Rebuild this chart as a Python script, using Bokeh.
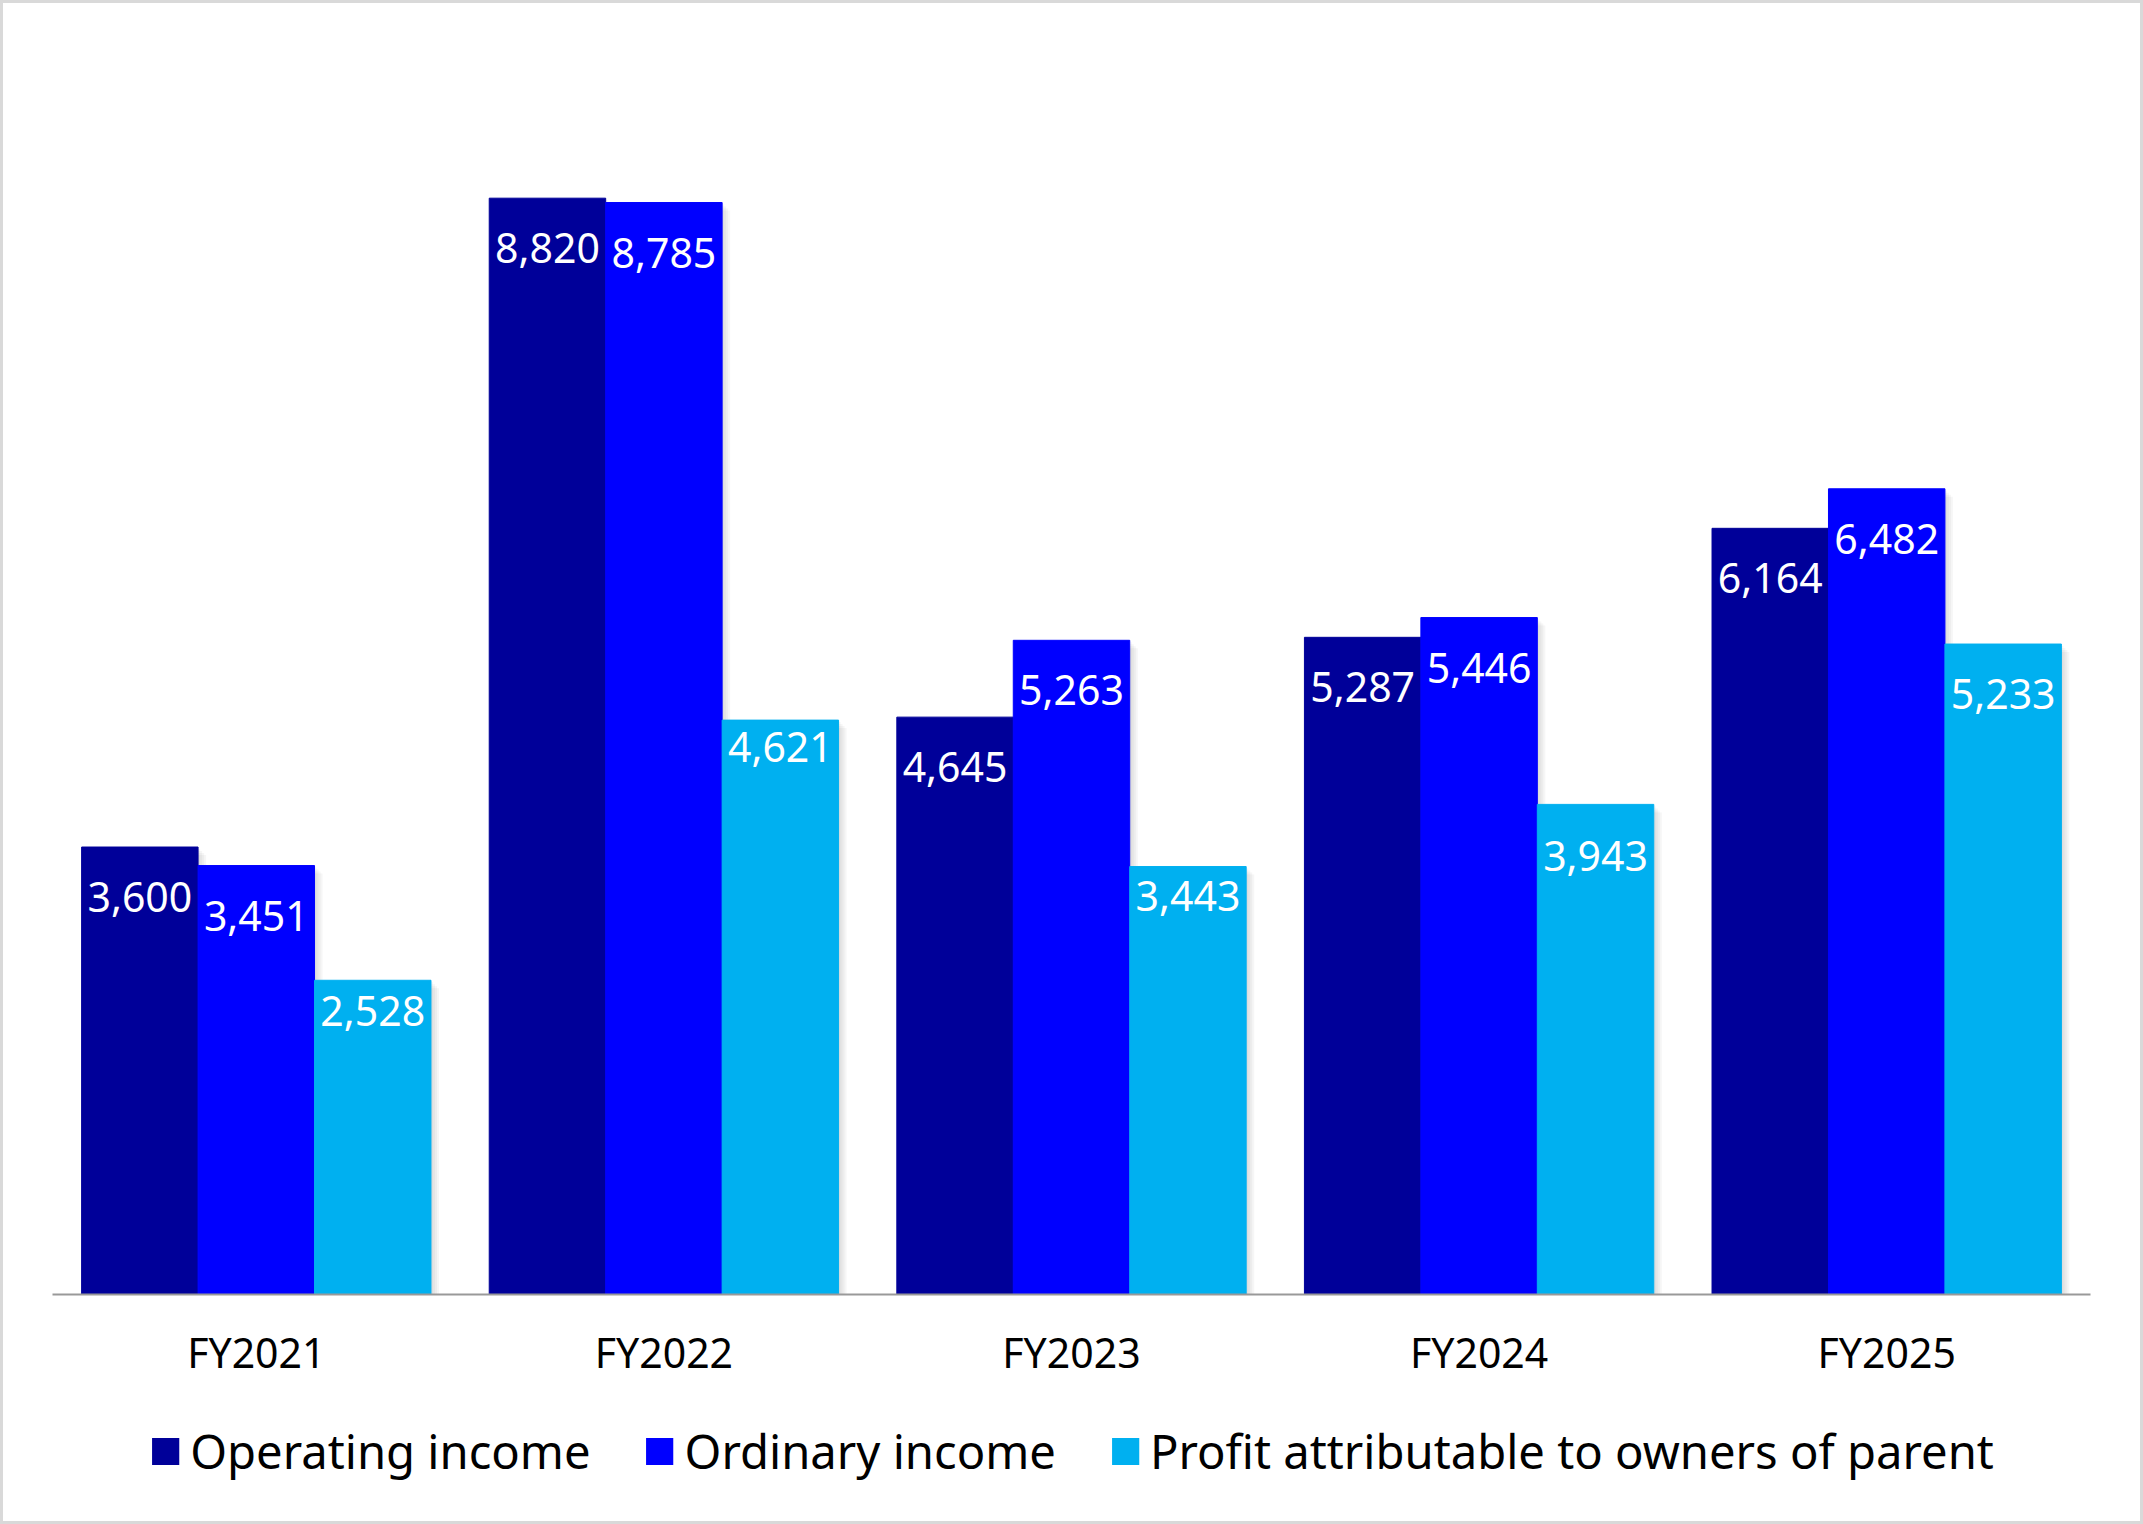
from bokeh.plotting import figure
from bokeh.layouts import column
from bokeh.models import ColumnDataSource, FactorRange, Range1d, Legend, LegendItem
from bokeh.transform import dodge
from bokeh.core.properties import value
from bokeh.embed import file_html
from bokeh.resources import INLINE

years = ["FY2021", "FY2022", "FY2023", "FY2024", "FY2025"]
operating_income = [3600, 8820, 4645, 5287, 6164]
ordinary_income = [3451, 8785, 5263, 5446, 6482]
profit_owners = [2528, 4621, 3443, 3943, 5233]
series_names = ["Operating income", "Ordinary income",
                "Profit attributable to owners of parent"]
series_values = [operating_income, ordinary_income, profit_owners]
colors = ["#000099", "#0000FF", "#00B0F0"]
# how far (px) each value label sits below its bar top
label_drop = [[50, 50, 50, 50, 50],
              [50, 50, 50, 50, 50],
              [31, 27, 29, 52, 50]]

W = 2137
H_CHART, H_LEG = 1379, 139
p = figure(x_range=FactorRange(factors=years, range_padding=0),
           y_range=Range1d(0, 10000),
           width=W, height=H_CHART, output_backend="svg", toolbar_location=None,
           y_axis_location=None,
           min_border_left=49, min_border_right=50,
           min_border_top=48, min_border_bottom=H_CHART - 1291)
p.background_fill_color = "white"
p.border_fill_color = "white"
p.outline_line_color = None
p.xgrid.visible = False
p.ygrid.visible = False

bar_w = 0.2857
offsets = [-bar_w, 0.0, bar_w]
px_x = 1.0 / 407.6      # one pixel in category units
px_y = 10000 / 1243.0    # one pixel in value units

# soft shadows
for vals, off in zip(series_values, offsets):
    for k in (2, 4, 6, 8):
        src = ColumnDataSource(dict(x=years, top=[v - k * px_y for v in vals]))
        p.vbar(x=dodge("x", off + k * px_x, range=p.x_range), top="top", width=bar_w,
               source=src, fill_color="#7f7f7f", fill_alpha=0.07, line_color=None)

for vals, off, col, drops in zip(series_values, offsets, colors, label_drop):
    src = ColumnDataSource(dict(x=years, top=vals, label=[f"{v:,}" for v in vals],
                                drop=drops))
    p.vbar(x=dodge("x", off, range=p.x_range), top="top", width=bar_w,
           source=src, fill_color=col, line_color=col, line_width=1)
    p.text(x=dodge("x", off, range=p.x_range), y="top", text="label", source=src,
           text_align="center", text_baseline="middle", y_offset="drop",
           text_color="white", text_font=value("Noto Sans"), text_font_size="41px")

ax = p.xaxis[0]
ax.axis_line_color = "#999999"
ax.axis_line_width = 2
ax.major_tick_line_color = None
ax.minor_tick_line_color = None
ax.major_label_text_font = "Noto Sans"
ax.major_label_text_font_size = "41px"
ax.major_label_text_color = "black"
ax.major_label_standoff = 23

# legend strip
pl = figure(width=W, height=H_LEG, x_range=Range1d(0, 1), y_range=Range1d(0, 1),
            output_backend="svg", toolbar_location=None,
            x_axis_location=None, y_axis_location=None, min_border=0)
pl.outline_line_color = None
pl.xgrid.visible = False
pl.ygrid.visible = False
pl.background_fill_color = "white"
pl.border_fill_color = "white"
leg_rs = []
for col in colors:
    # zero-height placeholder bar, only used to supply the legend swatch
    src = ColumnDataSource(dict(x=[0.5], top=[0.0]))
    leg_rs.append(pl.vbar(x="x", top="top", width=0.0, source=src,
                          fill_color=col, line_color=None))

legend = Legend(items=[LegendItem(label=n, renderers=[r]) for n, r in zip(series_names, leg_rs)],
                orientation="horizontal", location="top_center",
                glyph_width=34, glyph_height=34, label_standoff=8, spacing=52,
                padding=0, margin=37, border_line_color=None, background_fill_alpha=0,
                label_text_font="Noto Sans", label_text_font_size="47.2px",
                label_text_color="black")
pl.add_layout(legend, "center")

layout = column(p, pl, spacing=0, styles={"border": "3px solid #d9d9d9"})
open("out.html", "w").write(file_html(layout, INLINE))
